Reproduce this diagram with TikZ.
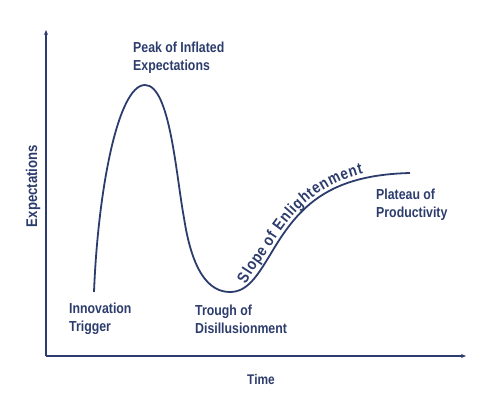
\documentclass[tikz,border=0pt]{standalone}
\usepackage{fontspec}
\setmainfont{Liberation Sans}[FakeStretch=0.85]
\usetikzlibrary{arrows.meta,decorations.text}
\definecolor{navy}{HTML}{2C3C6C}
\begin{document}
\begin{tikzpicture}[x=1pt,y=-1pt,
  lbl/.style={text=navy,font=\fontsize{14.5}{18}\selectfont\bfseries,align=left,inner sep=0pt},
  axis/.style={draw=navy,line width=1.6pt},
  curve/.style={draw=navy,line width=1.8pt}]
\useasboundingbox (0,0) rectangle (492,402);
\coordinate (o) at (46,356);
\coordinate (ytop) at (46,30);
\coordinate (xend) at (466,356);
\draw[axis,-{Stealth[length=5pt,width=4pt]}] (o) -- (ytop);
\draw[axis,-{Stealth[length=5pt,width=4pt]}] (o) -- (xend);
\coordinate (start) at (94,292);
\coordinate (peak) at (145,85);
\coordinate (down) at (184,218);
\coordinate (trough) at (230,292);
\coordinate (mid) at (273,250);
\coordinate (plateau) at (410,173);
\coordinate (sa) at (249,286);
\coordinate (sb) at (364,177);
\draw[curve] (start) .. controls (98,190) and (118,85) .. (peak)
  .. controls (170,85) and (176,175) .. (down)
  .. controls (192,270) and (208,292) .. (trough)
  .. controls (248,292) and (258,275) .. (mid)
  .. controls (300,205) and (330,175) .. (plateau);
\path[decorate,decoration={text along path,raise=3.5pt,text align={fit to path},
  text={|\fontsize{16}{18}\selectfont\bfseries\color{navy}|Slope of Enlightenment}}]
  (sa) .. controls (255,274) and (262,266) .. (mid)
  .. controls (295,213) and (320,188) .. (sb);
\node[lbl,anchor=west] (pk) at (133,58) {Peak of Inflated\\Expectations};
\node[lbl,anchor=west] (it) at (69,319) {Innovation\\Trigger};
\node[lbl,anchor=west] (tr) at (195,319) {Trough of\\Disillusionment};
\node[lbl,anchor=west] (pl) at (376,205) {Plateau of\\Productivity};
\node[lbl,font=\fontsize{14}{16}\selectfont\bfseries] (time) at (261,379) {Time};
\node[lbl,font=\fontsize{15.5}{18}\selectfont\bfseries,rotate=90] (ex) at (33,186) {Expectations};
\end{tikzpicture}
\end{document}
